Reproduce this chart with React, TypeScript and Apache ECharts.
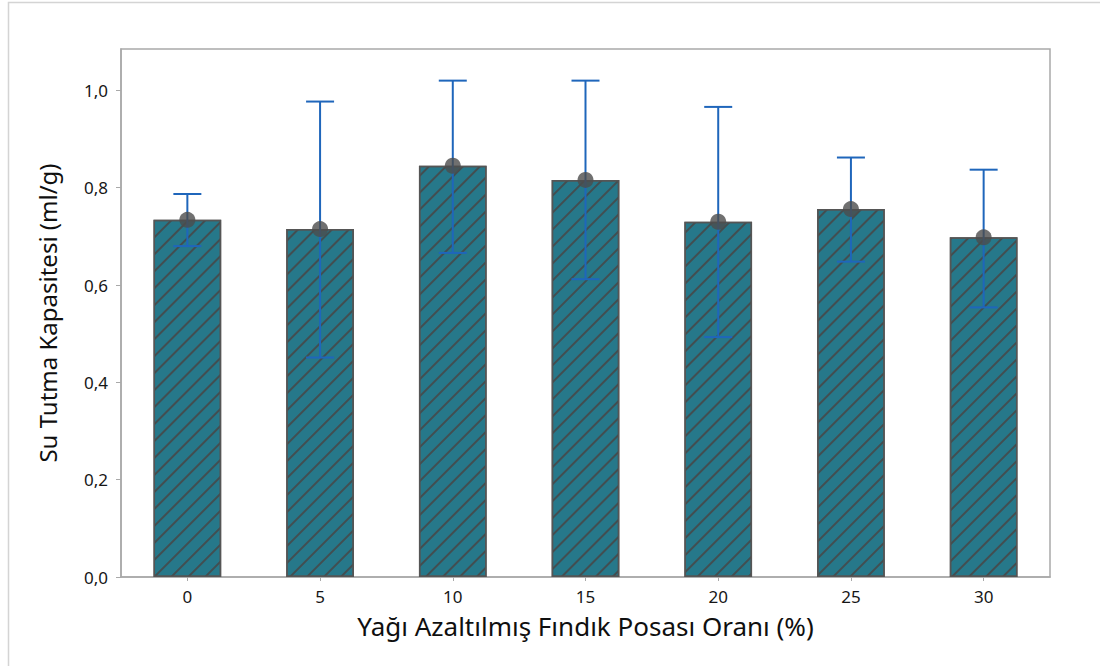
import React, { useEffect, useRef } from "react";
import * as echarts from "echarts";

const categories = ["0", "5", "10", "15", "20", "25", "30"];
const means = [0.734, 0.715, 0.845, 0.816, 0.730, 0.756, 0.698];
const errLow = [0.680, 0.451, 0.666, 0.612, 0.493, 0.648, 0.554];
const errHigh = [0.787, 0.977, 1.020, 1.020, 0.966, 0.862, 0.837];
const yTicks = [0, 0.2, 0.4, 0.6, 0.8, 1.0];

const FONT = "'Noto Sans', 'Open Sans', sans-serif";

export default function App() {
  const ref = useRef<HTMLDivElement>(null);
  useEffect(() => {
    if (!ref.current) return;
    const chart = echarts.init(ref.current, undefined, { renderer: "svg" });
    const errData = categories.map((_, i) => [i, errLow[i], errHigh[i]]);
    chart.setOption({
      animation: false,
      backgroundColor: "#ffffff",
      grid: {
        left: 121,
        top: 49,
        right: 50,
        bottom: 89,
        show: true,
        borderColor: "#a9a9a9",
        borderWidth: 1.5,
        backgroundColor: "transparent",
      },
      graphic: [
        {
          type: "rect",
          shape: { x: 8.5, y: 2.5, width: 1300, height: 900 },
          style: { fill: "none", stroke: "#d4d4d4", lineWidth: 1.5 },
          silent: true,
          z: -1,
        },
      ],
      xAxis: {
        type: "category",
        data: categories,
        name: "Yağı Azaltılmış Fındık Posası Oranı (%)",
        nameLocation: "middle",
        nameGap: 36,
        nameTextStyle: { fontFamily: FONT, fontSize: 26, color: "#0f0f0f" },
        axisLine: { show: true, lineStyle: { color: "#a9a9a9", width: 1.5 } },
        axisTick: { show: true, alignWithLabel: true, length: 4, lineStyle: { color: "#a9a9a9" } },
        axisLabel: { fontFamily: FONT, fontSize: 17, color: "#161616", margin: 11 },
        splitLine: { show: false },
      },
      yAxis: {
        type: "value",
        min: 0,
        max: 1.085,
        interval: 0.2,
        name: "Su Tutma Kapasitesi (ml/g)",
        nameLocation: "middle",
        nameGap: 62,
        nameRotate: 90,
        nameTextStyle: { fontFamily: FONT, fontSize: 24, color: "#0f0f0f" },
        axisLine: { show: true, lineStyle: { color: "#a9a9a9", width: 1.5 } },
        axisTick: { show: true, length: 5, lineStyle: { color: "#a9a9a9" }, customValues: yTicks },
        axisLabel: {
          fontFamily: FONT,
          fontSize: 17,
          color: "#161616",
          margin: 13,
          customValues: yTicks,
          formatter: (v: number) => v.toFixed(1).replace(".", ","),
        },
        splitLine: { show: false },
      },
      series: [
        {
          type: "bar",
          data: means,
          barWidth: "51%",
          itemStyle: {
            color: "#26788a",
            borderColor: "#555555",
            borderWidth: 1.5,
            decal: {
              symbol: "rect",
              dashArrayX: [1, 0],
              dashArrayY: [1.2, 9.4],
              rotation: -Math.PI / 4,
              color: "rgba(70,70,70,0.85)",
            },
          },
          z: 2,
        },
        {
          type: "custom",
          data: errData,
          z: 3,
          renderItem: (params: any, api: any) => {
            const x = api.value(0);
            const lo = api.coord([x, api.value(1)]);
            const hi = api.coord([x, api.value(2)]);
            const half = 14;
            const style = { stroke: "#1f66bb", lineWidth: 2 };
            return {
              type: "group",
              children: [
                { type: "line", shape: { x1: hi[0], y1: hi[1], x2: lo[0], y2: lo[1] }, style },
                { type: "line", shape: { x1: hi[0] - half, y1: hi[1], x2: hi[0] + half, y2: hi[1] }, style },
                { type: "line", shape: { x1: lo[0] - half, y1: lo[1], x2: lo[0] + half, y2: lo[1] }, style },
              ],
            };
          },
        },
        {
          type: "scatter",
          data: means,
          symbol: "circle",
          symbolSize: 16,
          itemStyle: { color: "#4c4c4c" },
          z: 4,
        },
      ],
    });
    return () => chart.dispose();
  }, []);
  return (
    <div
      ref={ref}
      style={{ position: "fixed", left: 0, top: 0, width: 1100, height: 666, background: "#fff" }}
    />
  );
}
